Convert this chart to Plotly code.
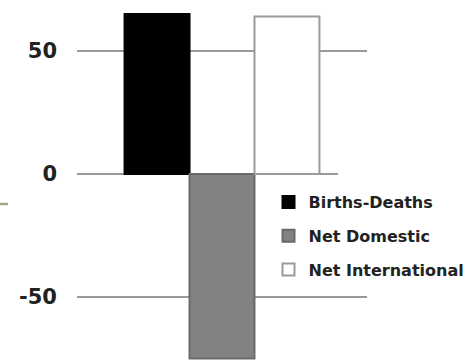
import plotly.graph_objects as go

# Components of population change (one group, three bars)
components = ["Births-Deaths", "Net Domestic", "Net International"]
values = [65, -75, 64]
fills = ["#000000", "#828282", "#ffffff"]
outlines = ["#000000", "#6a6a6a", "#9a9a9a"]

tick_vals = [50, 0, -50]
tick_text = ["50", "0", "-50"]

FONT = "DejaVu Sans"

fig = go.Figure()
for i, (name, v, fc, lc) in enumerate(zip(components, values, fills, outlines)):
    fig.add_trace(go.Bar(
        x=[""], y=[v], name=name,
        marker=dict(color=fc, line=dict(color=lc, width=2)),
        legendgroup=f"g{i}",
    ))

# Horizontal reference lines behind the bars
line_style = dict(color="#9a9a9a", width=2)
for v in [50, -50]:
    fig.add_shape(type="line", xref="paper", yref="y", x0=0, x1=1, y0=v, y1=v,
                  line=line_style, layer="below")
fig.add_shape(type="line", xref="paper", yref="y", x0=0, x1=0.9, y0=0, y1=0,
              line=line_style, layer="below")
# small olive stroke at the far left edge
fig.add_shape(type="line", xref="paper", yref="y", x0=-0.266, x1=-0.238,
              y0=-12.2, y1=-12.2, line=dict(color="#a3ab85", width=2.5),
              layer="above")

fig.update_layout(
    width=469, height=360,
    margin=dict(l=77, r=102, t=0, b=0, autoexpand=False),
    paper_bgcolor="white", plot_bgcolor="white",
    barmode="group", bargap=0.328, bargroupgap=0,
    showlegend=True,
    legend=dict(
        xref="container", yref="container",
        x=0.5725, xanchor="left", y=0.486, yanchor="top",
        font=dict(family=FONT, size=16, color="#222222", weight="bold"),
        bgcolor="rgba(0,0,0,0)", tracegroupgap=10, traceorder="grouped",
    ),
    xaxis=dict(showticklabels=False, showgrid=False, zeroline=False,
               showline=False, range=[-0.5, 0.5]),
    yaxis=dict(range=[-75.61, 70.73], tickvals=tick_vals, ticktext=tick_text,
               showgrid=False, zeroline=False, showline=False, ticks="",
               ticklabelstandoff=19,
               tickfont=dict(family=FONT, size=21, color="#222222", weight="bold")),
)

fig.write_html("out.html")
